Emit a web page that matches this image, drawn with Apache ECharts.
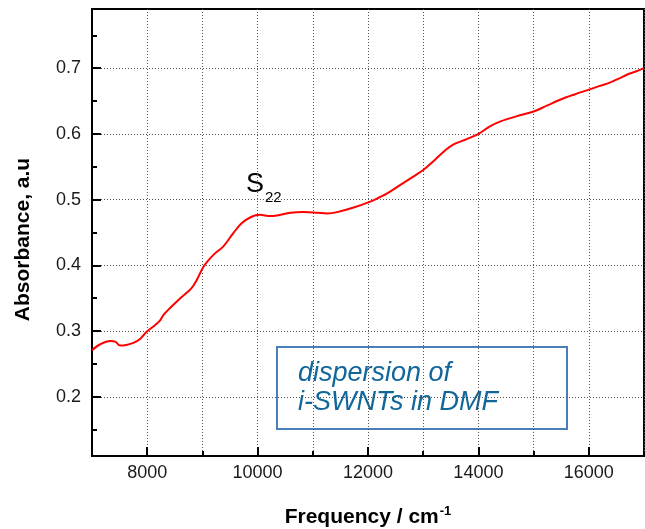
<!DOCTYPE html>
<html>
<head>
<meta charset="utf-8">
<script src="https://cdn.jsdelivr.net/npm/echarts@6/dist/echarts.min.js"></script>
<style>
html,body{margin:0;padding:0;background:#fff;}
#chart{width:645px;height:529px;}
</style>
</head>
<body>
<div id="chart"></div>
<script>
// Frequency (cm^-1)
const frequency = [7000,7150,7330,7420,7510,7620,7750,7870,7990,8140,8230,8300,8400,8600,8800,8900,9020,9200,9380,9560,9710,9890,10040,10230,10350,10600,10830,11080,11260,11440,11740,12040,12220,12340,12580,12820,13000,13180,13370,13550,13790,14000,14200,14400,14700,15000,15240,15480,15740,15990,16200,16380,16540,16690,16850,17000];
// Absorbance (a.u)
const absorbance = [0.271,0.280,0.285,0.284,0.278,0.279,0.282,0.288,0.299,0.309,0.316,0.325,0.334,0.350,0.365,0.378,0.398,0.416,0.429,0.449,0.464,0.474,0.477,0.475,0.476,0.480,0.481,0.480,0.479,0.481,0.488,0.497,0.504,0.509,0.522,0.535,0.545,0.558,0.573,0.584,0.592,0.600,0.611,0.619,0.627,0.634,0.643,0.652,0.660,0.667,0.673,0.678,0.684,0.690,0.695,0.700];

const xMajorTicks = [8000,10000,12000,14000,16000];
const yMajorTicks = [0.2,0.3,0.4,0.5,0.6,0.7];
const yMinorTicks = [0.15,0.25,0.35,0.45,0.55,0.65,0.75];

const FONT = "'Liberation Sans', Arial, sans-serif";
const chart = echarts.init(document.getElementById('chart'));

const dotted = {show:true, lineStyle:{color:'#555', width:1, type:[1,2]}};

chart.setOption({
  animation:false,
  backgroundColor:'#fff',
  grid:{left:92, right:1, top:9, bottom:73, show:true, borderColor:'#000', borderWidth:2, containLabel:false, outerBoundsMode:'none'},
  xAxis:[{
    type:'value', min:7000, max:17000, interval:1000,
    axisLine:{show:true, onZero:false, lineStyle:{color:'#000', width:2}},
    axisTick:{show:true, inside:true, length:5, lineStyle:{color:'#000', width:2}},
    splitLine:dotted,
    axisLabel:{show:true, margin:8, color:'#1a1a1a', fontSize:18, fontFamily:FONT,
      formatter:function(v){return (v % 2000 === 0 && v>7000 && v<17000) ? String(v) : '';}},
    name:'Frequency / cm{sup|-1}', nameLocation:'middle', nameGap:49,
    nameTextStyle:{color:'#000', fontSize:21, fontWeight:'bold', fontFamily:FONT,
      rich:{sup:{fontSize:13, fontWeight:'bold', fontFamily:FONT, color:'#000', verticalAlign:'top', padding:[0,0,12,1]}}}
  },{
    type:'value', min:7000, max:17000, position:'bottom',
    axisLine:{show:false, onZero:false},
    axisTick:{show:true, inside:true, length:9, customValues:xMajorTicks, lineStyle:{color:'#000', width:2}},
    splitLine:{show:false}, axisLabel:{show:false}
  }],
  yAxis:[{
    type:'value', min:0.11, max:0.79,
    axisLine:{show:true, onZero:false, lineStyle:{color:'#000', width:2}},
    axisTick:{show:true, inside:true, length:9, customValues:yMajorTicks, lineStyle:{color:'#000', width:2}},
    splitLine:dotted,
    axisLabel:{show:true, margin:11, customValues:yMajorTicks, color:'#1a1a1a', fontSize:18, fontFamily:FONT,
      formatter:function(v){return v.toFixed(1);}},
    name:'Absorbance, a.u', nameLocation:'middle', nameGap:58,
    nameTextStyle:{color:'#000', fontSize:21, fontWeight:'bold', fontFamily:FONT, padding:[0,14,0,0]}
  },{
    type:'value', min:0.11, max:0.79, position:'left',
    axisLine:{show:false, onZero:false},
    axisTick:{show:true, inside:true, length:5, customValues:yMinorTicks, lineStyle:{color:'#000', width:2}},
    splitLine:{show:false}, axisLabel:{show:false}
  }],
  series:[{
    type:'line', xAxisIndex:0, yAxisIndex:0,
    data:frequency.map((f,i)=>[f, absorbance[i]]),
    smooth:0.35, showSymbol:false, symbol:'none',
    lineStyle:{color:'#ff0000', width:2}
  }],
  graphic:[
    {type:'text', left:246, top:171, style:{text:'S', fontSize:27, fontFamily:FONT, fill:'#000'}},
    {type:'text', left:265, top:190, style:{text:'22', fontSize:15, fontFamily:FONT, fill:'#000'}},
    {type:'rect', shape:{x:277, y:347, width:290, height:82}, style:{fill:'none', stroke:'#4a7ebb', lineWidth:2}},
    {type:'text', left:298, top:360, style:{text:'dispersion of', fontSize:27, fontStyle:'italic', fontFamily:FONT, fill:'#11679a'}},
    {type:'text', left:298, top:389, style:{text:'i-SWNTs in DMF', fontSize:27, fontStyle:'italic', fontFamily:FONT, fill:'#11679a'}}
  ]
});
</script>
</body>
</html>
